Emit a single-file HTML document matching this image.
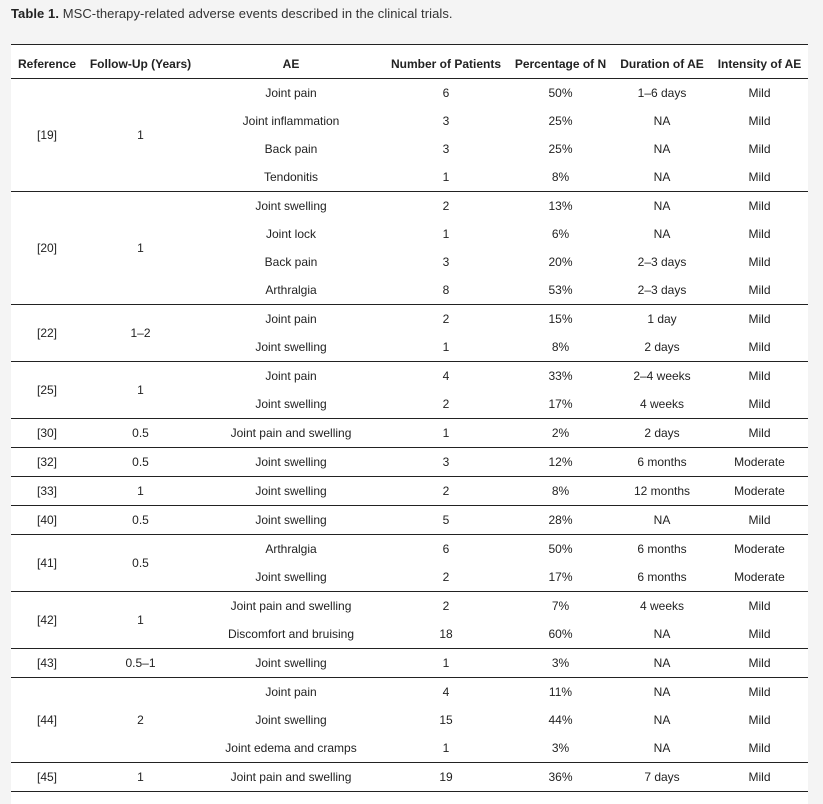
<!DOCTYPE html>
<html>
<head>
<meta charset="utf-8">
<style>
  html, body { margin:0; padding:0; }
  body { width:823px; height:794px; background:#f4f4f4; position:relative; overflow:hidden;
         font-family:"Liberation Sans", Arial, sans-serif; color:#222; }
  .title { position:absolute; left:11px; top:6px; font-size:13px; line-height:15px; color:#333; white-space:nowrap; letter-spacing:0.07px; }
  .title b { color:#222; }
  .wrap { position:absolute; left:11px; top:44px; width:797px; height:760px; background:#fff; }
  table { border-collapse:separate; border-spacing:0; table-layout:fixed; width:797px; font-size:12px; }
  th, td { padding:0; text-align:center; vertical-align:middle; white-space:nowrap; line-height:14px; }
  th { font-weight:bold; border-top:1px solid #222; border-bottom:1px solid #222; height:29px; padding-top:4px; }
  td { height:28px; }
  tr.e td, td.r { border-bottom:1px solid #222; }
</style>
</head>
<body>
<div class="title"><b>Table 1.</b> MSC-therapy-related adverse events described in the clinical trials.</div>
<div class="wrap">
<table>
<colgroup>
  <col style="width:72px"><col style="width:115px"><col style="width:186px"><col style="width:124px"><col style="width:105px"><col style="width:98px"><col style="width:97px">
</colgroup>
<thead>
<tr><th>Reference</th><th>Follow-Up (Years)</th><th>AE</th><th>Number of Patients</th><th>Percentage of N</th><th>Duration of AE</th><th>Intensity of AE</th></tr>
</thead>
<tbody>
<tr><td class="r" rowspan="4">[19]</td><td class="r" rowspan="4">1</td><td>Joint pain</td><td>6</td><td>50%</td><td>1–6 days</td><td>Mild</td></tr>
<tr><td>Joint inflammation</td><td>3</td><td>25%</td><td>NA</td><td>Mild</td></tr>
<tr><td>Back pain</td><td>3</td><td>25%</td><td>NA</td><td>Mild</td></tr>
<tr class="e"><td>Tendonitis</td><td>1</td><td>8%</td><td>NA</td><td>Mild</td></tr>

<tr><td class="r" rowspan="4">[20]</td><td class="r" rowspan="4">1</td><td>Joint swelling</td><td>2</td><td>13%</td><td>NA</td><td>Mild</td></tr>
<tr><td>Joint lock</td><td>1</td><td>6%</td><td>NA</td><td>Mild</td></tr>
<tr><td>Back pain</td><td>3</td><td>20%</td><td>2–3 days</td><td>Mild</td></tr>
<tr class="e"><td>Arthralgia</td><td>8</td><td>53%</td><td>2–3 days</td><td>Mild</td></tr>

<tr><td class="r" rowspan="2">[22]</td><td class="r" rowspan="2">1–2</td><td>Joint pain</td><td>2</td><td>15%</td><td>1 day</td><td>Mild</td></tr>
<tr class="e"><td>Joint swelling</td><td>1</td><td>8%</td><td>2 days</td><td>Mild</td></tr>

<tr><td class="r" rowspan="2">[25]</td><td class="r" rowspan="2">1</td><td>Joint pain</td><td>4</td><td>33%</td><td>2–4 weeks</td><td>Mild</td></tr>
<tr class="e"><td>Joint swelling</td><td>2</td><td>17%</td><td>4 weeks</td><td>Mild</td></tr>

<tr class="e"><td>[30]</td><td>0.5</td><td>Joint pain and swelling</td><td>1</td><td>2%</td><td>2 days</td><td>Mild</td></tr>
<tr class="e"><td>[32]</td><td>0.5</td><td>Joint swelling</td><td>3</td><td>12%</td><td>6 months</td><td>Moderate</td></tr>
<tr class="e"><td>[33]</td><td>1</td><td>Joint swelling</td><td>2</td><td>8%</td><td>12 months</td><td>Moderate</td></tr>
<tr class="e"><td>[40]</td><td>0.5</td><td>Joint swelling</td><td>5</td><td>28%</td><td>NA</td><td>Mild</td></tr>

<tr><td class="r" rowspan="2">[41]</td><td class="r" rowspan="2">0.5</td><td>Arthralgia</td><td>6</td><td>50%</td><td>6 months</td><td>Moderate</td></tr>
<tr class="e"><td>Joint swelling</td><td>2</td><td>17%</td><td>6 months</td><td>Moderate</td></tr>

<tr><td class="r" rowspan="2">[42]</td><td class="r" rowspan="2">1</td><td>Joint pain and swelling</td><td>2</td><td>7%</td><td>4 weeks</td><td>Mild</td></tr>
<tr class="e"><td>Discomfort and bruising</td><td>18</td><td>60%</td><td>NA</td><td>Mild</td></tr>

<tr class="e"><td>[43]</td><td>0.5–1</td><td>Joint swelling</td><td>1</td><td>3%</td><td>NA</td><td>Mild</td></tr>

<tr><td class="r" rowspan="3">[44]</td><td class="r" rowspan="3">2</td><td>Joint pain</td><td>4</td><td>11%</td><td>NA</td><td>Mild</td></tr>
<tr><td>Joint swelling</td><td>15</td><td>44%</td><td>NA</td><td>Mild</td></tr>
<tr class="e"><td>Joint edema and cramps</td><td>1</td><td>3%</td><td>NA</td><td>Mild</td></tr>

<tr class="e"><td>[45]</td><td>1</td><td>Joint pain and swelling</td><td>19</td><td>36%</td><td>7 days</td><td>Mild</td></tr>
</tbody>
</table>
</div>
</body>
</html>
